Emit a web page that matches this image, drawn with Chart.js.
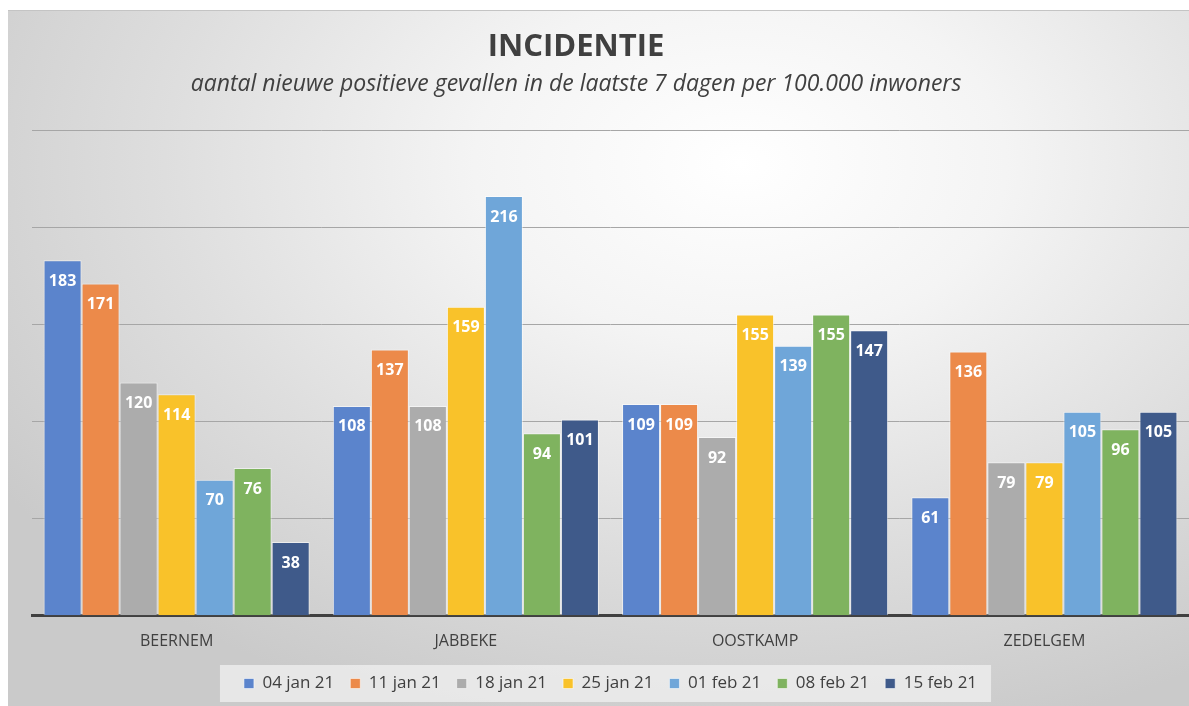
<!DOCTYPE html>
<html>
<head>
<meta charset="utf-8">
<script src="https://cdn.jsdelivr.net/npm/chart.js@4/dist/chart.umd.min.js"></script>
<style>
  html, body { margin: 0; padding: 0; background: #fff; }
  #wrap {
    position: absolute; left: 8px; top: 10px; width: 1181px; height: 696px;
    border-top: 1px solid #c4c4c4;
    box-sizing: border-box;
    background: radial-gradient(ellipse 75% 85% at 62% 22%, #ffffff 0%, #f4f4f4 30%, #dedede 65%, #cacaca 100%);
    font-family: 'Open Sans', 'Liberation Sans', sans-serif;
    color: #404040;
  }
  canvas { display: block; position: absolute; left: 0; top: 0; }
  .kop { position: absolute; left: 0; width: 1136px; text-align: center; white-space: nowrap; }
  #titel { top: 13px; font-size: 31px; font-weight: bold; line-height: 40px; }
  #sub { top: 56px; font-size: 23px; font-style: italic; line-height: 30px; }
</style>
</head>
<body>
<div id="wrap">
  <canvas id="chart" width="1181" height="695"></canvas>
  <div class="kop" id="titel">INCIDENTIE</div>
  <div class="kop" id="sub">aantal nieuwe positieve gevallen in de laatste 7 dagen per 100.000 inwoners</div>
</div>
<script>
const gemeenten = ['BEERNEM', 'JABBEKE', 'OOSTKAMP', 'ZEDELGEM'];
const weken = ['04 jan 21', '11 jan 21', '18 jan 21', '25 jan 21', '01 feb 21', '08 feb 21', '15 feb 21'];
const kleuren = ['#5b84cc', '#ec8a4a', '#acacac', '#f9c22a', '#6fa6d9', '#7fb35f', '#3f5a8a'];

const w04jan = [183, 108, 109, 61];
const w11jan = [171, 137, 109, 136];
const w18jan = [120, 108, 92, 79];
const w25jan = [114, 159, 155, 79];
const w01feb = [70, 216, 139, 105];
const w08feb = [76, 94, 155, 96];
const w15feb = [38, 101, 147, 105];
const reeksen = [w04jan, w11jan, w18jan, w25jan, w01feb, w08feb, w15feb];

const FONT = "'Open Sans', 'Liberation Sans', sans-serif";

// white value labels inside the top of each bar
const labelPlugin = {
    id: 'barLabels',
    afterDatasetsDraw(chart) {
        const ctx = chart.ctx;
        ctx.save();
        ctx.fillStyle = '#ffffff';
        ctx.font = "bold 16px " + FONT;
        ctx.textAlign = 'center';
        ctx.textBaseline = 'middle';
        chart.data.datasets.forEach((ds, i) => {
            chart.getDatasetMeta(i).data.forEach((bar, j) => {
                ctx.fillText(String(ds.data[j]), bar.x, bar.y + 21);
            });
        });
        ctx.restore();
    },
};

// light box behind the legend
const legendBg = {
    id: 'legendBg',
    beforeDraw(chart) {
        const boxes = chart.legend && chart.legend.legendHitBoxes;
        if (!boxes || !boxes.length) return;
        const l = Math.min(...boxes.map(b => b.left)) - 24;
        const r = Math.max(...boxes.map(b => b.left + b.width)) + 14;
        const t = boxes[0].top - 10;
        const h = boxes[0].height + 20;
        const ctx = chart.ctx;
        ctx.save();
        ctx.fillStyle = 'rgba(240,240,240,0.75)';
        ctx.fillRect(l, t, r - l, h);
        ctx.restore();
    },
};

new Chart(document.getElementById('chart'), {
    type: 'bar',
    data: {
        labels: gemeenten,
        datasets: weken.map((w, i) => ({
            label: w,
            data: reeksen[i],
            backgroundColor: kleuren[i],
            borderColor: 'rgba(255,255,255,0.55)',
            borderWidth: 1,
            categoryPercentage: 0.92,
            barPercentage: 1.0,
        })),
    },
    options: {
        responsive: false,
        animation: false,
        layout: { padding: { left: 24, right: 0, top: 119, bottom: 4 } },
        plugins: {
            title: { display: false },
            legend: {
                position: 'bottom',
                labels: {
                    color: '#404040',
                    font: { family: FONT, size: 17 },
                    boxWidth: 10,
                    boxHeight: 10,
                    padding: 16,
                },
            },
            tooltip: { enabled: false },
        },
        scales: {
            x: {
                grid: { display: false },
                border: { display: true, color: '#404040', width: 3 },
                ticks: {
                    color: '#404040',
                    font: { family: FONT, size: 16 },
                    padding: 8,
                },
            },
            y: {
                min: 0,
                max: 250,
                ticks: { display: false, stepSize: 50 },
                grid: { color: '#a6a6a6', drawTicks: false, tickLength: 0 },
                border: { display: false },
            },
        },
    },
    plugins: [legendBg, labelPlugin],
});
</script>
</body>
</html>
